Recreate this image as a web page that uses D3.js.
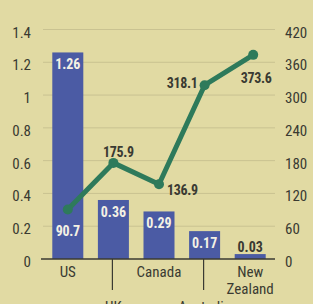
<!DOCTYPE html>
<html>
<head>
<meta charset="utf-8">
<script src="https://cdn.jsdelivr.net/npm/d3@7"></script>
<style>
  html, body { margin: 0; padding: 0; background: #e1daa3; }
  text { font-family: "Liberation Sans Narrow", "Arial Narrow", "Roboto Condensed", sans-serif; }
</style>
</head>
<body>
<div id="canvas"></div>
<script>
"use strict"

/* Data */
let countries = ["US", "UK", "Canada", "Australia", "New Zealand"];
let barValues = [1.26, 0.36, 0.29, 0.17, 0.03];
let lineValues = [90.7, 175.9, 136.9, 318.1, 373.6];
let leftTicks = [0, 0.2, 0.4, 0.6, 0.8, 1, 1.2, 1.4];
let rightTicks = [0, 60, 120, 180, 240, 300, 360, 420];

/* Drawing config */
let svgWidth = 313;
let svgHeight = 304;
let plotLeft = 43;
let plotRight = 275;
let plotTop = 29.5;
let plotBottom = 259;

let bg = "#e1daa3";
let barColor = "#4b5ba4";
let lineColor = "#2e7a5b";
let textColor = "#3a3a32";

let svg = d3.select("#canvas")
    .append("svg")
    .attr("width", svgWidth)
    .attr("height", svgHeight);

svg.append("rect")
    .attr("width", svgWidth)
    .attr("height", svgHeight)
    .attr("fill", bg);

let xScale = d3.scaleBand()
    .domain(countries)
    .range([45, 273])
    .paddingInner(0.32)
    .paddingOuter(0.16);

let yLeft = d3.scaleLinear()
    .domain([0, 1.4])
    .range([plotBottom, plotTop]);

let yRight = d3.scaleLinear()
    .domain([0, 420])
    .range([plotBottom, plotTop]);

/* grid lines */
svg.append("g")
    .selectAll("line")
    .data(leftTicks.slice(1))
    .join("line")
    .attr("x1", plotLeft)
    .attr("x2", plotRight)
    .attr("y1", d => yLeft(d))
    .attr("y2", d => yLeft(d))
    .attr("stroke", "#c9c291")
    .attr("stroke-width", 1);

/* left axis labels */
let leftAxis = svg.append("g")
    .attr("transform", "translate(31,0)")
    .call(d3.axisLeft(yLeft).tickValues(leftTicks).tickSize(0).tickPadding(0).tickFormat(d3.format("~g")));
leftAxis.select(".domain").remove();
leftAxis.selectAll("text")
    .attr("fill", textColor)
    .attr("font-size", 15)
    .attr("dy", "0.5em")
    .style("font-family", null);

/* right axis labels */
let rightAxis = svg.append("g")
    .attr("transform", "translate(285,0)")
    .call(d3.axisRight(yRight).tickValues(rightTicks).tickSize(0).tickPadding(0));
rightAxis.select(".domain").remove();
rightAxis.selectAll("text")
    .attr("fill", textColor)
    .attr("font-size", 15)
    .attr("dy", "0.5em")
    .style("font-family", null);

/* bars */
svg.append("g")
    .selectAll("rect")
    .data(barValues)
    .join("rect")
    .attr("x", (d, i) => xScale(countries[i]))
    .attr("y", d => yLeft(d))
    .attr("width", xScale.bandwidth())
    .attr("height", d => plotBottom - yLeft(d))
    .attr("fill", barColor);

/* bar value labels: white inside, dark above if bar too short */
svg.append("g")
    .selectAll("text")
    .data(barValues)
    .join("text")
    .attr("x", (d, i) => xScale(countries[i]) + xScale.bandwidth() / 2)
    .attr("y", d => (plotBottom - yLeft(d) > 20) ? yLeft(d) + 17 : yLeft(d) - 2)
    .attr("text-anchor", "middle")
    .attr("font-size", 14)
    .attr("font-weight", "bold")
    .attr("fill", d => (plotBottom - yLeft(d) > 20) ? "#f4f1e4" : textColor)
    .text(d => d.toFixed(2));

/* baseline */
svg.append("line")
    .attr("x1", 41)
    .attr("x2", plotRight)
    .attr("y1", plotBottom)
    .attr("y2", plotBottom)
    .attr("stroke", "#3a3a32")
    .attr("stroke-width", 1.5);

/* line series */
let cx = (d, i) => xScale(countries[i]) + xScale.bandwidth() / 2 + (i == 4 ? 3 : 0);
let line = d3.line()
    .x(cx)
    .y(d => yRight(d));

svg.append("path")
    .datum(lineValues)
    .attr("d", line)
    .attr("fill", "none")
    .attr("stroke", lineColor)
    .attr("stroke-width", 5)
    .attr("stroke-linejoin", "round");

svg.append("g")
    .selectAll("circle")
    .data(lineValues)
    .join("circle")
    .attr("cx", cx)
    .attr("cy", d => yRight(d))
    .attr("r", 5)
    .attr("fill", lineColor);

/* line value labels, placed by hand around each point */
let lineLabelPlace = [
    { dx: 0, dy: 27, anchor: "middle", fill: "#f4f1e4" },
    { dx: 5, dy: -6, anchor: "middle", fill: textColor },
    { dx: 8, dy: 11, anchor: "start", fill: textColor },
    { dx: -7, dy: 3, anchor: "end", fill: textColor },
    { dx: 3, dy: 28, anchor: "middle", fill: textColor }
];

svg.append("g")
    .selectAll("text")
    .data(lineValues)
    .join("text")
    .attr("x", (d, i) => cx(d, i) + lineLabelPlace[i].dx)
    .attr("y", (d, i) => yRight(d) + lineLabelPlace[i].dy)
    .attr("text-anchor", (d, i) => lineLabelPlace[i].anchor)
    .attr("fill", (d, i) => lineLabelPlace[i].fill)
    .attr("font-size", 14)
    .attr("font-weight", "bold")
    .attr("letter-spacing", -0.3)
    .text(d => d.toFixed(1));

/* x labels: staggered rows, long ticks under the lower-row ones */
svg.append("g")
    .selectAll("line")
    .data(countries.filter((c, i) => i % 2 == 1))
    .join("line")
    .attr("x1", d => xScale(d) + xScale.bandwidth() / 2 - 1)
    .attr("x2", d => xScale(d) + xScale.bandwidth() / 2 - 1)
    .attr("y1", plotBottom)
    .attr("y2", 290)
    .attr("stroke", "#3a3a32")
    .attr("stroke-width", 1.2);

let xLabels = svg.append("g")
    .selectAll("text")
    .data(countries)
    .join("text")
    .attr("x", d => xScale(d) + xScale.bandwidth() / 2)
    .attr("y", (d, i) => i % 2 == 1 ? 312 : 277)
    .attr("text-anchor", "middle")
    .attr("font-size", 15)
    .attr("fill", textColor);

xLabels.each(function(d) {
    let words = d.split(" ");
    let t = d3.select(this);
    words.forEach(function(w, k) {
        t.append("tspan")
            .attr("x", t.attr("x"))
            .attr("dy", k == 0 ? 0 : 17)
            .text(w);
    });
});
</script>
</body>
</html>
